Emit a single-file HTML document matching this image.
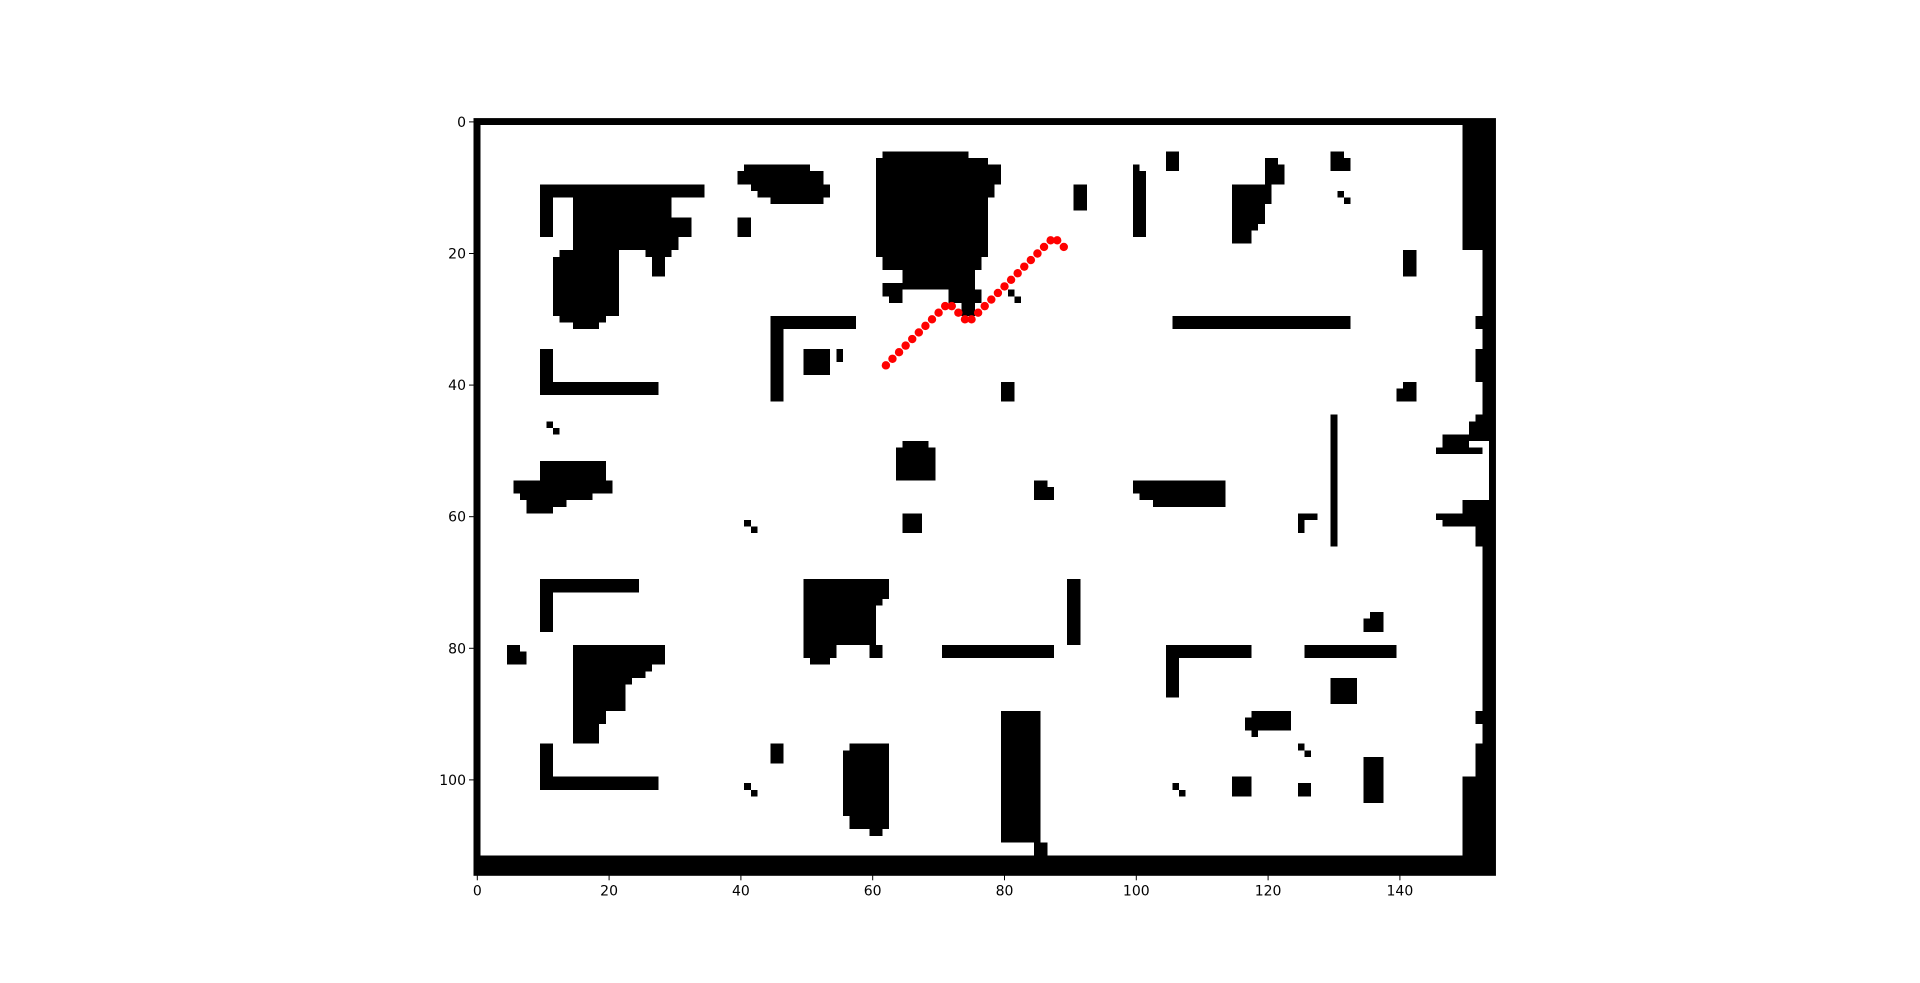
<!DOCTYPE html>
<html><head><meta charset="utf-8"><title>Occupancy grid path</title>
<style>html,body{margin:0;padding:0;background:#fff;}svg{display:block;}
text{font-family:"DejaVu Sans","Liberation Sans",sans-serif;font-size:14px;fill:#000;}</style></head>
<body>
<svg id="chart" width="1920" height="983" viewBox="0 0 1920 983" xmlns="http://www.w3.org/2000/svg">
<rect x="0" y="0" width="1920" height="983" fill="#fff"/>
<g id="grid" shape-rendering="crispEdges"></g>
<g id="path"></g>
<g id="axes"></g>
</svg>
<script>
const gridCols = 155;
const gridRows = 115;
const xTicks = [0,20,40,60,80,100,120,140];
const yTicks = [0,20,40,60,80,100];
const pathX = [62,63,64,65,66,67,68,69,70,71,72,73,74,75,76,77,78,79,80,81,82,83,84,85,86,87,88,89];
const pathY = [37,36,35,34,33,32,31,30,29,28,28,29,30,30,29,28,27,26,25,24,23,22,21,20,19,18,18,19];
const obstacles = [
[0,0,155,1],[0,0,1,115],[0,112,155,115],
[150,0,155,20],[153,20,155,49],[152,30,153,32],[152,35,153,40],[152,45,153,46],[151,46,153,48],[147,48,154,49],[147,49,151,50],[146,50,153,51],[154,49,155,58],[150,58,155,60],[146,60,155,61],[147,61,155,62],[152,62,155,65],[153,65,155,115],[152,90,153,92],[152,95,153,100],[150,100,155,115],
[10,10,35,12],[10,10,12,18],[15,12,30,20],[30,15,33,18],[30,18,31,20],[26,20,30,21],[27,21,29,24],
[13,20,22,30],[12,21,13,30],[13,30,20,31],[15,31,19,32],
[41,7,51,8],[40,8,53,10],[42,10,54,11],[43,11,54,12],[45,12,53,13],
[40,15,42,18],[10,35,12,42],[10,40,28,42],[11,46,12,47],[12,47,13,48],
[45,30,58,32],[45,30,47,43],[50,35,54,39],[55,35,56,37],
[62,5,75,6],[61,6,78,7],[61,7,80,10],[61,10,79,12],[61,12,78,21],[62,21,77,23],[65,23,76,26],[72,26,77,28],[74,28,76,30],[62,25,65,27],[63,27,65,28],[81,26,82,27],[82,27,83,28],
[65,49,69,50],[64,50,70,55],
[10,52,20,55],[6,55,21,57],[7,57,18,58],[8,58,14,59],[8,59,12,60],
[65,60,68,63],
[91,10,93,14],[100,7,101,8],[100,8,102,18],[105,5,107,8],[120,6,122,7],[120,7,123,10],[115,10,121,13],[115,13,120,16],[115,16,119,17],[115,17,118,19],[130,5,132,8],[132,6,133,8],[131,11,132,12],[132,12,133,13],[141,20,143,24],[106,30,133,32],[141,40,143,43],[140,41,141,43],[80,40,82,43],[130,45,131,65],[85,55,87,56],[85,56,88,58],[100,55,114,57],[101,57,114,58],[103,58,114,59],[125,60,128,61],[125,61,126,63],
[41,61,42,62],[42,62,43,63],[10,70,25,72],[10,70,12,78],[5,80,7,81],[5,81,8,83],
[15,80,29,83],[15,83,27,84],[15,84,26,85],[15,85,24,86],[15,86,23,90],[15,90,20,92],[15,92,19,95],
[10,95,12,102],[10,100,28,102],[45,95,47,98],[41,101,42,102],[42,102,43,103],
[50,70,63,73],[50,73,62,74],[50,74,61,80],[50,80,55,82],[51,82,54,83],[60,80,62,82],
[71,80,88,82],[57,95,63,108],[56,96,57,106],[60,108,62,109],
[90,70,92,80],[80,90,86,110],[85,110,87,112],[105,80,118,82],[105,80,107,88],[126,80,140,82],[136,75,138,78],[135,76,136,78],[130,85,134,89],[118,90,124,93],[117,91,118,93],[118,93,119,94],[125,95,126,96],[126,96,127,97],[135,97,138,104],[106,101,107,102],[107,102,108,103],[115,100,118,103],[125,101,127,103]
];
const NS = "http://www.w3.org/2000/svg";
const X0 = 474, Y0 = 118.6, CW = 6.59, CH = 6.58;
function xEdge(c){ return X0 + CW*c; }
function yEdge(r){ return Y0 + CH*r; }
function xData(v){ return xEdge(v+0.5); }
function yData(v){ return yEdge(v+0.5); }
const grid = document.getElementById('grid');
obstacles.forEach(function(o){
  const r = document.createElementNS(NS,'rect');
  r.setAttribute('x', xEdge(o[0])); r.setAttribute('y', yEdge(o[1]));
  r.setAttribute('width', xEdge(o[2])-xEdge(o[0])); r.setAttribute('height', yEdge(o[3])-yEdge(o[1]));
  r.setAttribute('fill','#000');
  
  
  grid.appendChild(r);
});
const pg = document.getElementById('path');
for (let i=0;i<pathX.length;i++){
  const c = document.createElementNS(NS,'circle');
  c.setAttribute('cx', xData(pathX[i])); c.setAttribute('cy', yData(pathY[i]));
  c.setAttribute('r', 4.2); c.setAttribute('fill','#ff0000');
  
  
  pg.appendChild(c);
}
const ax = document.getElementById('axes');
const frame = document.createElementNS(NS,'rect');
frame.setAttribute('x', xEdge(0)); frame.setAttribute('y', yEdge(0));
frame.setAttribute('width', xEdge(gridCols)-xEdge(0)); frame.setAttribute('height', yEdge(gridRows)-yEdge(0));
frame.setAttribute('fill','none'); frame.setAttribute('stroke','#000'); frame.setAttribute('stroke-width','1');


ax.appendChild(frame);
const bottom = yEdge(gridRows);
xTicks.forEach(function(v){
  const x = xData(v);
  const l = document.createElementNS(NS,'line');
  l.setAttribute('x1',x); l.setAttribute('x2',x); l.setAttribute('y1',bottom); l.setAttribute('y2',bottom+5);
  l.setAttribute('stroke','#000'); l.setAttribute('stroke-width','1');
  
  
  ax.appendChild(l);
  const t = document.createElementNS(NS,'text');
  t.setAttribute('x',x); t.setAttribute('y',bottom+20); t.setAttribute('text-anchor','middle');
  t.textContent = String(v);
  
  
  ax.appendChild(t);
});
yTicks.forEach(function(v){
  const y = yData(v);
  const l = document.createElementNS(NS,'line');
  l.setAttribute('x1',xEdge(0)-5); l.setAttribute('x2',xEdge(0)); l.setAttribute('y1',y); l.setAttribute('y2',y);
  l.setAttribute('stroke','#000'); l.setAttribute('stroke-width','1');
  
  
  ax.appendChild(l);
  const t = document.createElementNS(NS,'text');
  t.setAttribute('x',xEdge(0)-8); t.setAttribute('y',y+5); t.setAttribute('text-anchor','end');
  t.textContent = String(v);
  
  
  ax.appendChild(t);
});
</script>
</body></html>
